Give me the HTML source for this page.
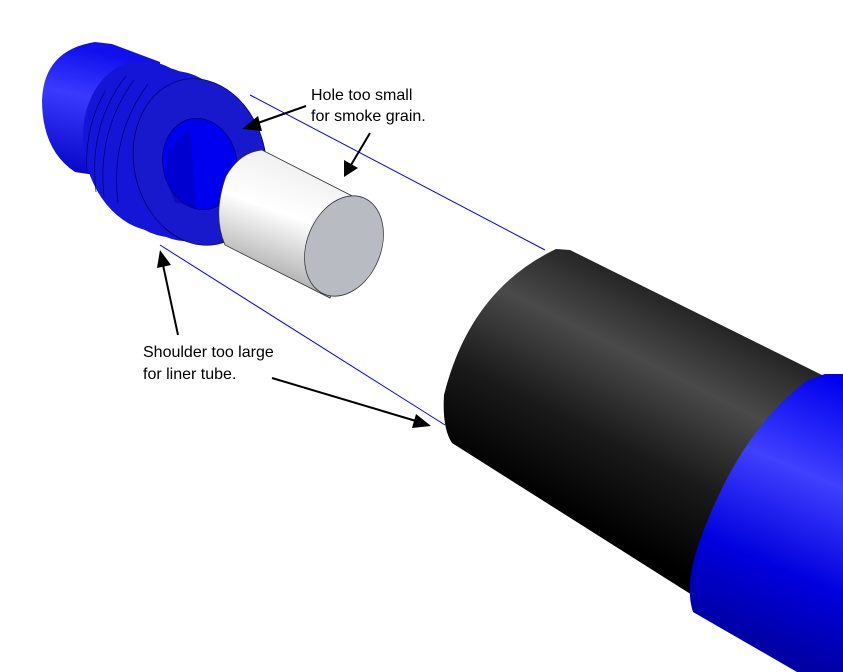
<!DOCTYPE html>
<html><head><style>body{margin:0;background:#fff}svg{display:block}</style></head><body>
<svg width="843" height="672" viewBox="0 0 843 672" xmlns="http://www.w3.org/2000/svg" font-family="Liberation Sans, Arial, sans-serif">
<defs>
<linearGradient id="blk" gradientUnits="userSpaceOnUse" x1="610" y1="262" x2="500" y2="480">
<stop offset="0" stop-color="#222"/><stop offset="0.3" stop-color="#4a4a4a"/><stop offset="0.65" stop-color="#1a1a1a"/><stop offset="1" stop-color="#000"/></linearGradient>
<linearGradient id="blu" gradientUnits="userSpaceOnUse" x1="840" y1="380" x2="730" y2="640">
<stop offset="0" stop-color="#0000ee"/><stop offset="0.35" stop-color="#4040ff"/><stop offset="0.7" stop-color="#0000dd"/><stop offset="1" stop-color="#0000a0"/></linearGradient>
<linearGradient id="wht" gradientUnits="userSpaceOnUse" x1="300" y1="170" x2="260" y2="280">
<stop offset="0" stop-color="#f2f2f2"/><stop offset="0.4" stop-color="#ffffff"/><stop offset="1" stop-color="#a8a8a8"/></linearGradient>
<linearGradient id="bb" gradientUnits="userSpaceOnUse" x1="90" y1="50" x2="60" y2="180">
<stop offset="0" stop-color="#1010ee"/><stop offset="0.35" stop-color="#3a3aff"/><stop offset="1" stop-color="#0000c0"/></linearGradient>
<clipPath id="cb"><ellipse cx="165" cy="152" rx="80" ry="88" transform="rotate(-12 165 152)"/></clipPath>
</defs>
<line x1="250" y1="95" x2="545" y2="250" stroke="#0000ff" stroke-width="1"/>
<line x1="160" y1="245" x2="445" y2="425" stroke="#0000ff" stroke-width="1"/>
<path d="M556,249 Q470,290 444,395 Q442,428 452,443 L700,600 L760,600 L828,378 L570,250 Z" fill="url(#blk)"/>
<path d="M825,374 L843,374 L843,672 L797,672 L693,612 Q684,585 700,540 Q740,430 808,380 Z" fill="url(#blu)"/>
<path d="M42,100 Q44,50 95,42 L112,44 L160,62 L160,185 L75,172 Q42,150 42,100Z" fill="url(#bb)"/>
<g fill="#1515d8">
<ellipse cx="150" cy="146" rx="66" ry="86" transform="rotate(-12 150 146)"/>
<ellipse cx="165" cy="152" rx="66" ry="86" transform="rotate(-12 165 152)"/>
<ellipse cx="180" cy="156" rx="66" ry="86" transform="rotate(-12 180 156)"/>
</g>
<g stroke="#000070" stroke-width="0.7" fill="none" clip-path="url(#cb)">
<path d="M88,185 Q80,120 118,72"/>
<path d="M96,192 Q88,125 126,76"/>
<path d="M104,197 Q97,130 134,80"/>
<path d="M118,203 Q110,135 148,84"/>
</g>
<ellipse cx="200" cy="162" rx="66" ry="84" transform="rotate(-12 200 162)" fill="#1818cc" stroke="#000060" stroke-width="0.7"/>
<ellipse cx="200" cy="164" rx="37" ry="46" transform="rotate(-12 200 164)" fill="#0000f0" stroke="#000060" stroke-width="0.7"/>
<path d="M168,150 Q164,180 175,202 L196,208 L190,128 Z" fill="#0000b0" opacity="0.5"/>
<path d="M262,150 L360,200 L330,298 L225,245 Q212,215 226,176 Q240,152 262,150 Z" fill="url(#wht)" stroke="#333" stroke-width="0.8"/>
<ellipse cx="344" cy="246" rx="37" ry="52" transform="rotate(22 344 246)" fill="#b9bbc3" stroke="#333" stroke-width="0.8"/>
<g stroke="#000" stroke-width="2" fill="none">
<line x1="306" y1="106" x2="255" y2="124"/>
<line x1="370" y1="133" x2="351" y2="165"/>
<line x1="178" y1="335" x2="163" y2="265"/>
<line x1="272" y1="378" x2="416" y2="421"/>
</g>
<g fill="#000">
<polygon points="242,129 258,116 262,131"/>
<polygon points="344,177 344,160 358,168"/>
<polygon points="160,250 157,268 171,265"/>
<polygon points="431,426 416,414 412,428"/>
</g>
<g font-size="16" fill="#000">
<text x="311" y="100">Hole too small</text>
<text x="311" y="121">for smoke grain.</text>
<text x="143" y="357">Shoulder too large</text>
<text x="143" y="379">for liner tube.</text>
</g>
</svg>
</body></html>
